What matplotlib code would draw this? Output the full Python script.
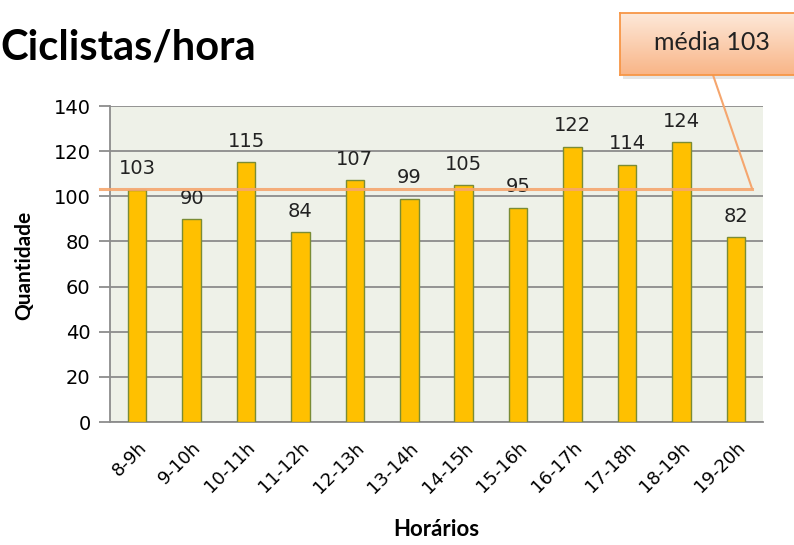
import matplotlib
matplotlib.use("Agg")
import matplotlib.pyplot as plt
from matplotlib.patches import Rectangle
import numpy as np

categories = ["8-9h", "9-10h", "10-11h", "11-12h", "12-13h", "13-14h",
              "14-15h", "15-16h", "16-17h", "17-18h", "18-19h", "19-20h"]
values = [103, 90, 115, 84, 107, 99, 105, 95, 122, 114, 124, 82]
yticks = [0, 20, 40, 60, 80, 100, 120, 140]
mean_val = sum(values) / len(values)

W, H = 794, 545
fig = plt.figure(figsize=(W / 100, H / 100), dpi=100)
fig.patch.set_facecolor("white")

L, R, T, B = 110, 763, 106, 422
ax = fig.add_axes([L / W, 1 - B / H, (R - L) / W, (B - T) / H])
ax.set_facecolor("#EEF1E8")

x = np.arange(len(categories))
ax.bar(x, values, width=0.34, color="#FFC000", edgecolor="#7A8C35", linewidth=1.0, zorder=3)
for xi, v in zip(x, values):
    ax.text(xi, v + 5, str(v), ha="center", va="bottom", fontsize=14,
            family="DejaVu Sans", color="#222222", zorder=4)

ax.set_xlim(-0.5, len(categories) - 0.5)
ax.set_ylim(0, 140)
ax.set_yticks(yticks)
ax.yaxis.grid(True, color="#8C8C8C", linewidth=1.3, zorder=1)
ax.set_axisbelow(True)
for s in ["top", "right"]:
    ax.spines[s].set_visible(False)
ax.spines["left"].set_color("#8C8C8C")
ax.spines["left"].set_linewidth(1.3)
ax.spines["bottom"].set_color("#8C8C8C")
ax.spines["bottom"].set_linewidth(1.3)
ax.tick_params(axis="y", length=8, width=1.3, color="#8C8C8C", labelsize=14, pad=6)
ax.tick_params(axis="x", length=0, labelsize=13, pad=12)
ax.set_xticks(x)
ax.set_xticklabels(categories, rotation=45, ha="right", rotation_mode="anchor")
for lbl in ax.get_yticklabels():
    lbl.set_family("DejaVu Sans")
for lbl in ax.get_xticklabels():
    lbl.set_family("DejaVu Sans")

# average line
ax.plot([-0.68, 11.3], [mean_val, mean_val], color="#F5A66E", linewidth=2.2,
        alpha=0.9, clip_on=False, zorder=5)

fig.text(24 / W, 1 - 265 / H, "Quantidade", fontsize=15, fontweight="bold",
         family="Lato", ha="center", va="center", rotation=90)
fig.text(436 / W, 1 - 530 / H, "Horários", fontsize=16, fontweight="bold",
         family="Lato", ha="center", va="center")
fig.text(0 / W, 1 - 47 / H, "Ciclistas/hora", fontsize=30, fontweight="bold",
         family="Lato", ha="left", va="center")

# callout box with gradient and soft shadow
bx0, bx1, by0, by1 = 620, 800, 13, 75
shadow = Rectangle(((bx0 + 3) / W, 1 - (by1 + 4) / H), (bx1 - bx0) / W,
                   (by1 - by0) / H, transform=fig.transFigure,
                   facecolor="#000000", alpha=0.10, edgecolor="none")
shadow.set_zorder(-1)
fig.patches.append(shadow)
bax = fig.add_axes([bx0 / W, 1 - by1 / H, (bx1 - bx0) / W, (by1 - by0) / H])
bax.set_zorder(10)
grad = np.linspace(0, 1, 100).reshape(-1, 1)
c_top = np.array(matplotlib.colors.to_rgb("#FDE9DA"))
c_bot = np.array(matplotlib.colors.to_rgb("#F9B587"))
img = c_top[None, None, :] * (1 - grad[..., None]) + c_bot[None, None, :] * grad[..., None]
bax.imshow(img, aspect="auto", extent=[0, 1, 0, 1], origin="upper")
bax.set_xticks([]); bax.set_yticks([])
for s in bax.spines.values():
    s.set_color("#F79646"); s.set_linewidth(1.3)
bax.text((712 - bx0) / (bx1 - bx0), 0.52, "média 103", ha="center", va="center",
         fontsize=18, family="Lato", color="#222222")

ax.annotate("", xy=(11.3, mean_val), xycoords="data",
            xytext=(713 / W, 1 - 75 / H), textcoords="figure fraction",
            arrowprops=dict(arrowstyle="-", color="#F5A66E", linewidth=1.5,
                            shrinkA=0, shrinkB=0), annotation_clip=False)

fig.savefig("out.png", dpi=100)
